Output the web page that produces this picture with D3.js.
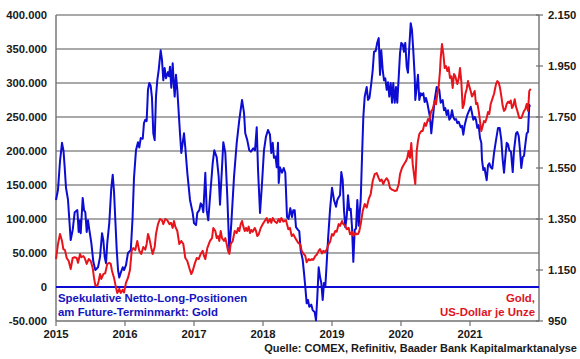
<!DOCTYPE html>
<html><head><meta charset="utf-8">
<script src="https://cdn.jsdelivr.net/npm/d3@7"></script>
<style>
body{margin:0;background:#fff}
svg{display:block}
text{font-family:"Liberation Sans",Arial,sans-serif;font-weight:bold}
</style>
</head><body>
<svg id="c" width="580" height="359"></svg>
<script>
// Spekulative Netto-Long-Positionen (Tsd. Kontrakte), decimal years
const blueYears = [2015.000,2015.029,2015.058,2015.087,2015.109,2015.126,2015.145,2015.174,2015.213,2015.242,2015.271,2015.309,2015.329,2015.348,2015.358,2015.387,2015.406,2015.425,2015.445,2015.464,2015.483,2015.512,2015.541,2015.570,2015.609,2015.638,2015.667,2015.686,2015.706,2015.725,2015.743,2015.772,2015.801,2015.822,2015.841,2015.859,2015.880,2015.899,2015.917,2015.942,2015.967,2015.986,2016.014,2016.043,2016.083,2016.087,2016.109,2016.130,2016.159,2016.188,2016.207,2016.228,2016.257,2016.275,2016.294,2016.314,2016.333,2016.352,2016.372,2016.391,2016.410,2016.430,2016.449,2016.468,2016.488,2016.517,2016.536,2016.555,2016.575,2016.594,2016.623,2016.638,2016.652,2016.671,2016.691,2016.710,2016.720,2016.739,2016.758,2016.797,2016.816,2016.836,2016.855,2016.874,2016.903,2016.942,2016.981,2017.000,2017.029,2017.048,2017.077,2017.097,2017.116,2017.135,2017.164,2017.184,2017.207,2017.232,2017.271,2017.294,2017.329,2017.358,2017.377,2017.406,2017.425,2017.454,2017.483,2017.512,2017.541,2017.580,2017.619,2017.657,2017.696,2017.725,2017.743,2017.772,2017.801,2017.826,2017.859,2017.884,2017.909,2017.928,2017.957,2017.986,2018.014,2018.043,2018.072,2018.101,2018.120,2018.141,2018.159,2018.181,2018.199,2018.217,2018.228,2018.246,2018.275,2018.300,2018.323,2018.348,2018.370,2018.396,2018.420,2018.439,2018.459,2018.478,2018.507,2018.526,2018.546,2018.575,2018.594,2018.613,2018.633,2018.652,2018.671,2018.700,2018.720,2018.749,2018.768,2018.787,2018.807,2018.826,2018.845,2018.865,2018.884,2018.903,2018.923,2018.942,2018.971,2019.000,2019.029,2019.058,2019.077,2019.097,2019.116,2019.135,2019.155,2019.174,2019.193,2019.213,2019.232,2019.251,2019.271,2019.290,2019.309,2019.329,2019.348,2019.367,2019.387,2019.416,2019.435,2019.454,2019.474,2019.503,2019.522,2019.543,2019.570,2019.590,2019.609,2019.633,2019.657,2019.677,2019.696,2019.714,2019.735,2019.754,2019.772,2019.793,2019.812,2019.830,2019.851,2019.870,2019.888,2019.909,2019.928,2019.946,2019.967,2019.986,2020.004,2020.025,2020.043,2020.062,2020.083,2020.101,2020.120,2020.141,2020.159,2020.178,2020.199,2020.207,2020.228,2020.246,2020.265,2020.286,2020.304,2020.323,2020.343,2020.362,2020.381,2020.401,2020.420,2020.439,2020.459,2020.488,2020.517,2020.536,2020.555,2020.575,2020.604,2020.623,2020.642,2020.662,2020.681,2020.700,2020.720,2020.739,2020.758,2020.778,2020.797,2020.816,2020.836,2020.865,2020.884,2020.903,2020.923,2020.942,2020.961,2020.990,2021.010,2021.029,2021.048,2021.068,2021.087,2021.106,2021.126,2021.145,2021.164,2021.174,2021.193,2021.213,2021.222,2021.242,2021.261,2021.280,2021.300,2021.323,2021.348,2021.377,2021.406,2021.430,2021.454,2021.474,2021.493,2021.512,2021.532,2021.551,2021.570,2021.594,2021.619,2021.638,2021.667,2021.686,2021.706,2021.725,2021.743,2021.764,2021.783,2021.801,2021.822,2021.841,2021.859,2021.870];
const blueValues = [128,143,185,212,200,176,146,128,69,84,110,113,81,98,79,131,113,110,81,98,84,65,37,25,29,44,79,69,44,35,65,94,145,165,140,100,55,25,14,22,29,25,32,50,54,60,100,160,201,213,205,219,218,241,246,244,290,300,296,278,226,216,280,304,319,348,334,304,322,307,316,310,324,293,329,294,280,312,290,226,197,212,226,205,168,128,109,94,91,109,113,123,120,110,168,113,98,132,182,201,191,162,121,176,213,197,132,52,94,162,212,246,275,256,226,216,201,199,204,201,235,172,109,153,201,221,231,224,197,212,190,192,176,212,153,176,168,175,168,103,100,116,103,113,113,88,84,82,54,40,21,0,-24,-19,-29,-26,-34,-37,-49,-15,29,15,6,-19,6,0,35,69,113,146,128,118,128,132,135,169,157,113,88,103,135,113,115,88,37,84,86,128,90,128,191,250,280,294,275,278,300,319,346,347,360,366,312,348,319,304,307,290,301,280,300,271,300,271,294,271,309,344,359,357,346,359,324,315,353,388,378,348,309,275,294,312,275,285,282,285,272,278,271,260,250,226,246,275,294,293,290,271,275,260,263,253,260,246,249,260,250,246,247,241,243,235,237,224,238,246,253,260,265,256,246,250,246,234,238,219,212,187,172,175,168,157,179,182,176,174,197,216,234,234,216,187,168,191,212,210,201,199,169,201,226,228,222,201,175,191,193,209,226,228,268,265];

// Gold, US-Dollar je Unze
const goldYears = [2015.000,2015.029,2015.058,2015.087,2015.106,2015.130,2015.155,2015.184,2015.213,2015.242,2015.271,2015.300,2015.319,2015.348,2015.367,2015.396,2015.416,2015.445,2015.474,2015.503,2015.532,2015.551,2015.570,2015.599,2015.619,2015.638,2015.657,2015.686,2015.714,2015.743,2015.772,2015.793,2015.812,2015.841,2015.870,2015.888,2015.917,2015.938,2015.967,2015.986,2016.014,2016.043,2016.072,2016.097,2016.120,2016.149,2016.178,2016.207,2016.236,2016.265,2016.294,2016.314,2016.333,2016.352,2016.381,2016.401,2016.430,2016.449,2016.478,2016.507,2016.536,2016.555,2016.584,2016.613,2016.643,2016.667,2016.691,2016.710,2016.729,2016.758,2016.787,2016.816,2016.845,2016.874,2016.903,2016.932,2016.961,2016.981,2017.010,2017.039,2017.068,2017.097,2017.126,2017.145,2017.164,2017.193,2017.232,2017.261,2017.280,2017.309,2017.329,2017.348,2017.367,2017.387,2017.406,2017.435,2017.454,2017.474,2017.493,2017.512,2017.532,2017.561,2017.590,2017.619,2017.638,2017.657,2017.677,2017.696,2017.714,2017.735,2017.754,2017.772,2017.793,2017.812,2017.830,2017.851,2017.880,2017.899,2017.917,2017.938,2017.967,2017.996,2018.025,2018.054,2018.072,2018.101,2018.120,2018.141,2018.170,2018.199,2018.228,2018.246,2018.265,2018.294,2018.333,2018.367,2018.391,2018.416,2018.439,2018.468,2018.512,2018.541,2018.561,2018.584,2018.613,2018.633,2018.662,2018.681,2018.710,2018.729,2018.758,2018.778,2018.807,2018.826,2018.855,2018.874,2018.899,2018.923,2018.952,2018.971,2019.000,2019.019,2019.048,2019.068,2019.097,2019.116,2019.145,2019.164,2019.193,2019.213,2019.242,2019.261,2019.290,2019.309,2019.338,2019.358,2019.377,2019.396,2019.416,2019.445,2019.474,2019.503,2019.532,2019.561,2019.590,2019.619,2019.648,2019.677,2019.696,2019.720,2019.743,2019.764,2019.793,2019.816,2019.841,2019.870,2019.909,2019.938,2019.967,2019.986,2020.014,2020.043,2020.072,2020.091,2020.110,2020.130,2020.149,2020.170,2020.188,2020.207,2020.228,2020.246,2020.265,2020.294,2020.314,2020.343,2020.362,2020.391,2020.410,2020.439,2020.459,2020.488,2020.507,2020.526,2020.546,2020.565,2020.575,2020.594,2020.614,2020.633,2020.652,2020.671,2020.691,2020.710,2020.729,2020.749,2020.768,2020.787,2020.816,2020.836,2020.855,2020.874,2020.894,2020.913,2020.932,2020.952,2020.971,2020.990,2021.010,2021.029,2021.048,2021.068,2021.087,2021.106,2021.126,2021.145,2021.164,2021.184,2021.203,2021.222,2021.242,2021.261,2021.280,2021.300,2021.329,2021.348,2021.377,2021.396,2021.416,2021.435,2021.454,2021.474,2021.493,2021.512,2021.532,2021.551,2021.570,2021.590,2021.609,2021.628,2021.648,2021.667,2021.686,2021.714,2021.743,2021.764,2021.783,2021.801,2021.822,2021.841,2021.859,2021.880];
const goldValues = [1193,1252,1291,1264,1232,1228,1197,1185,1154,1197,1200,1197,1178,1213,1200,1205,1197,1174,1193,1185,1158,1119,1090,1087,1107,1134,1115,1134,1138,1174,1178,1174,1146,1119,1080,1060,1076,1060,1072,1062,1100,1119,1150,1225,1236,1228,1264,1225,1213,1240,1230,1252,1291,1275,1236,1213,1240,1291,1330,1350,1345,1330,1350,1345,1330,1335,1315,1342,1320,1303,1252,1264,1252,1197,1185,1158,1134,1146,1174,1197,1193,1213,1225,1205,1193,1236,1264,1275,1315,1303,1275,1283,1264,1303,1275,1264,1275,1252,1225,1213,1252,1264,1303,1295,1315,1303,1330,1342,1322,1303,1315,1303,1320,1295,1307,1300,1315,1303,1283,1290,1315,1330,1342,1354,1335,1350,1335,1354,1340,1334,1350,1338,1354,1340,1345,1310,1315,1283,1290,1275,1256,1250,1225,1215,1205,1180,1193,1188,1193,1190,1205,1210,1225,1232,1215,1225,1220,1230,1252,1260,1291,1285,1303,1300,1330,1323,1342,1330,1323,1310,1315,1290,1300,1283,1295,1290,1291,1303,1330,1381,1409,1395,1428,1448,1499,1526,1530,1510,1499,1505,1487,1500,1510,1500,1471,1465,1460,1462,1487,1526,1550,1565,1577,1590,1617,1590,1648,1565,1526,1487,1617,1656,1683,1695,1695,1726,1715,1742,1735,1774,1780,1813,1800,1840,1870,1930,1981,2036,1997,1942,1950,1930,1945,1903,1910,1864,1919,1910,1879,1900,1942,1890,1785,1800,1840,1860,1891,1870,1852,1830,1840,1852,1801,1805,1774,1734,1695,1715,1734,1730,1746,1770,1762,1801,1825,1840,1879,1891,1885,1864,1832,1793,1774,1780,1801,1810,1805,1815,1785,1795,1820,1790,1774,1746,1746,1760,1774,1780,1801,1774,1852,1860];

const leftTicks = [-50,0,50,100,150,200,250,300,350,400];
const rightTicks = [950,1150,1350,1550,1750,1950,2150];
const yearTicks = [2015,2016,2017,2018,2019,2020,2021];

const svg = d3.select("#c");
const L = 56, R = 539, T = 15, B = 321;
const x = d3.scaleLinear().domain([2015, 2022]).range([L, R]);
const yL = d3.scaleLinear().domain([-50, 400]).range([B, T]);
const yR = d3.scaleLinear().domain([950, 2150]).range([B, T]);

const de = d3.formatLocale({decimal: ",", thousands: ".", grouping: [3], currency: ["", "€"], minus: "-"});
const fmt = de.format(",");

const blueC = "#0c0cd2", redC = "#e8141c", txt = "#1a1a1a";

// gridlines
svg.append("g").selectAll("line").data(leftTicks).join("line")
  .attr("x1", L).attr("x2", R)
  .attr("y1", d => yL(d)).attr("y2", d => yL(d))
  .attr("stroke", d => d === -50 ? "#707070" : "#8c8c8c")
  .attr("stroke-width", 1.4);

// left axis line
svg.append("line").attr("x1", L).attr("x2", L).attr("y1", T).attr("y2", B)
  .attr("stroke", "#707070").attr("stroke-width", 1.4);
// right axis line
svg.append("line").attr("x1", R).attr("x2", R).attr("y1", T).attr("y2", B)
  .attr("stroke", "#707070").attr("stroke-width", 1.4);

// left labels
svg.append("g").selectAll("text").data(leftTicks).join("text")
  .attr("x", 47).attr("y", d => yL(d)).attr("dy", "0.36em")
  .attr("text-anchor", "end").attr("font-size", 11.3).attr("fill", txt)
  .text(d => fmt(d * 1000));

// right ticks & labels
svg.append("g").selectAll("line").data(rightTicks).join("line")
  .attr("x1", R - 3).attr("x2", R + 4)
  .attr("y1", d => yR(d)).attr("y2", d => yR(d))
  .attr("stroke", "#707070").attr("stroke-width", 1.2);
svg.append("g").selectAll("text").data(rightTicks).join("text")
  .attr("x", 548).attr("y", d => yR(d)).attr("dy", "0.36em")
  .attr("font-size", 11.3).attr("fill", txt)
  .text(d => fmt(d));

// bottom ticks & labels
svg.append("g").selectAll("line").data(yearTicks).join("line")
  .attr("x1", d => x(d)).attr("x2", d => x(d))
  .attr("y1", B).attr("y2", B + 5)
  .attr("stroke", "#707070").attr("stroke-width", 1.2);
svg.append("g").selectAll("text").data(yearTicks).join("text")
  .attr("x", d => x(d)).attr("y", 337.5)
  .attr("text-anchor", "middle").attr("font-size", 11.3).attr("fill", txt)
  .text(d => d);

// zero line
svg.append("line").attr("x1", L).attr("x2", R).attr("y1", yL(0)).attr("y2", yL(0))
  .attr("stroke", blueC).attr("stroke-width", 2);

// series
const blue = blueYears.map((t, i) => [t, blueValues[i]]);
const gold = goldYears.map((t, i) => [t, goldValues[i]]);

svg.append("path").datum(blue)
  .attr("fill", "none").attr("stroke", blueC).attr("stroke-width", 2)
  .attr("stroke-linejoin", "round")
  .attr("d", d3.line().x(d => x(d[0])).y(d => yL(d[1])));

svg.append("path").datum(gold)
  .attr("fill", "none").attr("stroke", redC).attr("stroke-width", 2)
  .attr("stroke-linejoin", "round")
  .attr("d", d3.line().x(d => x(d[0])).y(d => yR(d[1])));

// legends
const bl = svg.append("text").attr("x", 58).attr("font-size", 11.4).attr("fill", "#1414c0");
bl.append("tspan").attr("x", 58).attr("y", 302).text("Spekulative Netto-Long-Positionen");
bl.append("tspan").attr("x", 58).attr("y", 316).text("am Future-Terminmarkt: Gold");

const rl = svg.append("text").attr("text-anchor", "end").attr("font-size", 11.4).attr("fill", "#e0141e");
rl.append("tspan").attr("x", 535).attr("y", 302).text("Gold,");
rl.append("tspan").attr("x", 535).attr("y", 316).text("US-Dollar je Unze");

// source
svg.append("text").attr("x", 577).attr("y", 351.5).attr("text-anchor", "end")
  .attr("font-size", 11).attr("fill", txt)
  .text("Quelle: COMEX, Refinitiv, Baader Bank Kapitalmarktanalyse");
</script>
</body></html>
